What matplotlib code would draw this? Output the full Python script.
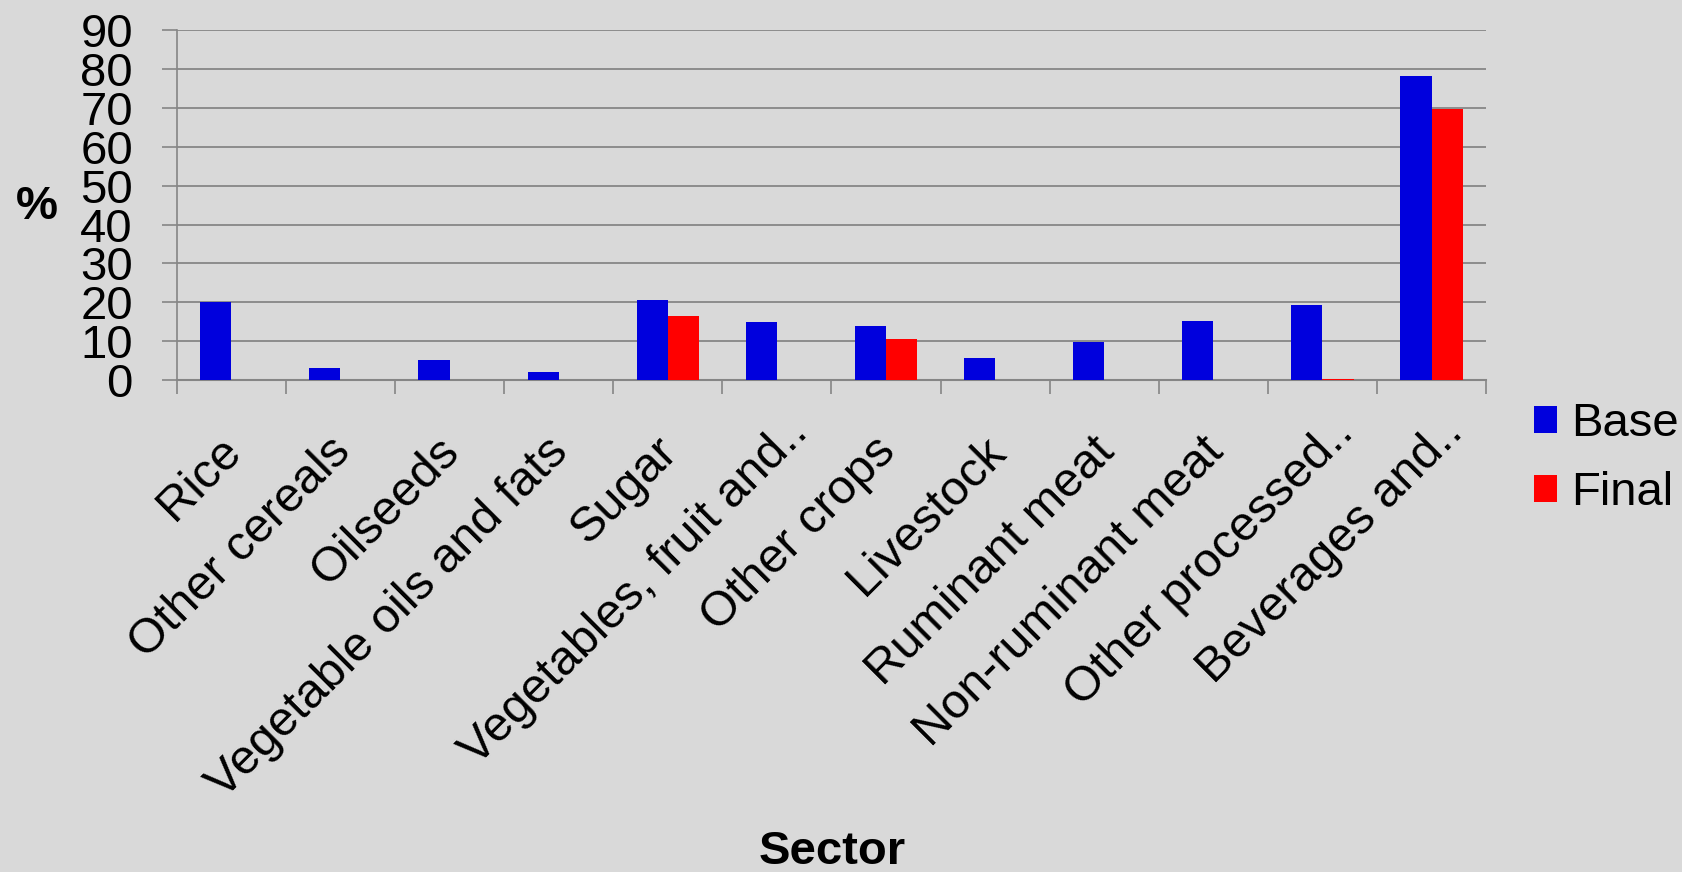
import numpy as np
import matplotlib
matplotlib.use("Agg")
import matplotlib.pyplot as plt
from matplotlib.transforms import ScaledTranslation

# data
sectors = ["Rice", "Other cereals", "Oilseeds", "Vegetable oils and fats", "Sugar",
           "Vegetables, fruit and..", "Other crops", "Livestock", "Ruminant meat",
           "Non-ruminant meat", "Other processed..", "Beverages and.."]
base = [20.2, 3.1, 5.1, 2.1, 20.6, 14.9, 13.8, 5.7, 9.9, 15.1, 19.3, 78.3]
final = [0, 0, 0, 0, 16.4, 0, 10.5, 0, 0, 0, 0.3, 69.7]

plt.rcParams["font.family"] = ["Liberation Sans", "DejaVu Sans"]
bg = "#D9D9D9"
grid = "#868686"

fig = plt.figure(figsize=(16.83, 8.72), dpi=100, facecolor=bg)
ax = fig.add_axes([0.105, 0.564, 0.778, 0.4016], facecolor=bg)

x = np.arange(len(sectors))
w = 0.285
ax.bar(x - w / 2, base, w, color="#0000DD", label="Base", zorder=3)
ax.bar(x + w / 2, final, w, color="#FF0000", label="Final", zorder=3)

ax.set_ylim(0, 90)
ax.set_xlim(-0.5, len(sectors) - 0.5)
ax.set_yticks(range(0, 91, 10))
ax.yaxis.grid(True, color=grid, linewidth=1.3, zorder=0)
ax.tick_params(axis="y", length=10.5, width=1.2, color=grid, labelsize=34, pad=21)

# category labels, rotated 45 deg
ax.set_xticks(x)
ax.set_xticklabels(sectors, rotation=45, ha="right", va="top",
                   rotation_mode="anchor", fontsize=35)
ax.tick_params(axis="x", which="major", length=0, pad=35)
# truncated labels sit a little further out along the text (pixels)
for lab in ax.get_xticklabels():
    dx, dy = (21, -19) if lab.get_text().endswith("..") else (0, 0)
    off = ScaledTranslation((dx - 13) / 100, -dy / 100, fig.dpi_scale_trans)
    lab.set_transform(lab.get_transform() + off)
ax.set_xticks(np.arange(-0.5, len(sectors)), minor=True)
ax.tick_params(axis="x", which="minor", length=10, width=1.2, color=grid)

for s in ["top", "right"]:
    ax.spines[s].set_visible(False)
ax.spines["left"].set_color(grid)
ax.spines["left"].set_linewidth(1.2)
ax.spines["bottom"].set_color(grid)
ax.spines["bottom"].set_linewidth(1.5)

fig.text(0.022, 0.7626, "%", fontsize=34, fontweight="bold", ha="center", va="center")
fig.text(0.4944, 0.009, "Sector", fontsize=34, fontweight="bold", ha="center", va="baseline")

ax.legend(loc="upper left", bbox_to_anchor=(0.9, 0.5607), bbox_transform=fig.transFigure,
          frameon=False, fontsize=34, handlelength=0.5, handleheight=0.5,
          handletextpad=0.3, labelspacing=0.53, borderaxespad=0)

fig.savefig("out.png", dpi=100, facecolor=bg)
